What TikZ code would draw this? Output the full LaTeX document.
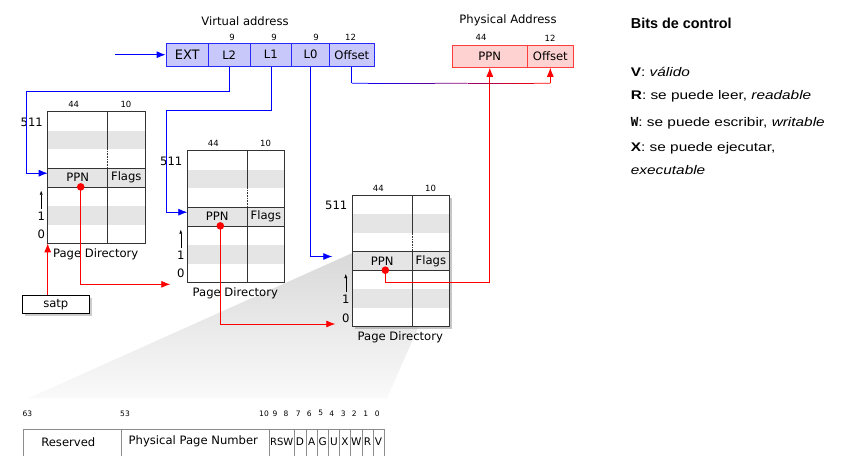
\documentclass[tikz,border=0pt]{standalone}
\usepackage{fontspec}
\setmainfont{DejaVu Sans}
\newfontfamily\ctrlfont[FakeStretch=1.23]{Liberation Sans}
\newfontfamily\headfont{Liberation Sans}
\newfontfamily\wbitfont{DejaVu Sans Mono}
\usetikzlibrary{arrows.meta,shadows,calc}

\definecolor{vafill}{RGB}{200,200,250}
\definecolor{vaedge}{RGB}{40,40,250}
\definecolor{pafill}{RGB}{255,210,210}
\definecolor{paedge}{RGB}{255,60,60}

\tikzset{
  lbl/.style={font=\fontsize{11.6}{13}\selectfont, inner sep=0pt},
  bits/.style={font=\fontsize{8.5}{9}\selectfont, inner sep=0pt},
  bitno/.style={font=\fontsize{7.5}{8}\selectfont, inner sep=0pt},
  vfield/.style={lbl, draw=vaedge, fill=vafill, line width=0.9pt, minimum height=22.7pt},
  pfield/.style={lbl, draw=paedge, fill=pafill, line width=0.9pt, minimum height=22.3pt},
  ctrl/.style={anchor=west, inner sep=0pt, font=\ctrlfont\fontsize{12.5}{14}\selectfont},
  band/.style={fill=black!10},
  dirline/.style={draw=black!80, line width=0.6pt},
  barline/.style={draw=black!45, line width=0.7pt},
  vlink/.style={blue, line width=0.8pt},
  rlink/.style={red, line width=0.8pt},
}

\begin{document}
\begin{tikzpicture}[x=1pt, y=-1pt, >={Latex[length=9pt,width=7pt]}]
\useasboundingbox (0,0) rectangle (861,455);

% virtual address
\node[lbl] (vtitle) at (245,20.7) {Virtual address};
\node[vfield, minimum width=42.3pt, font=\fontsize{13}{14}\selectfont] (ext) at (187.2,54.7) {EXT};
\node[vfield, minimum width=41.7pt] (l2) at (229.2,54.7) {L2};
\node[vfield, minimum width=41.7pt] (l1) at (270.9,54.7) {L1};
\node[vfield, minimum width=37.6pt] (l0) at (310.5,54.7) {L0};
\node[vfield, minimum width=45pt] (off) at (351.8,54.7) {Offset};
\node[bits] (n2) at (232,37.7) {9};
\node[bits] (n1) at (274,37.7) {9};
\node[bits] (n0) at (316,37.7) {9};
\node[bits] (noff) at (350.5,37.7) {12};

% physical address
\node[lbl] (ptitle) at (508,20.7) {Physical Address};
\node[pfield, minimum width=75pt] (pppn) at (489.8,56.2) {PPN};
\node[pfield, minimum width=46pt] (poff) at (550.3,56.2) {Offset};
\node[bits] (n44) at (481,37) {44};
\node[bits] (n12) at (550,38) {12};

% projection of the entry
\shade[top color=black!15, bottom color=black!2] (352.3,253) -- (447,262) -- (387,398.3) -- (28.3,398.3) -- cycle;
\fill[white, drop shadow={opacity=0.45}] (352.3,195) rectangle ++(97.3,131.6);

% page directories
\foreach \t/\x/\y in {A/47.7/111.7, B/187.3/150.7, C/352.3/195}{
  \fill[white] (\x,\y) rectangle ++(97.3,131.6);
  \fill[band] (\x,\y+18.8) rectangle ++(97.3,18.8);
  \fill[band] (\x,\y+56.4) rectangle ++(97.3,18.8);
  \fill[band] (\x,\y+94) rectangle ++(97.3,18.8);
  \draw[dirline] (\x,\y+56.4) -- ++(97.3,0) (\x,\y+75.2) -- ++(97.3,0);
  \draw[dirline] (\x+60,\y) -- ++(0,37.6) (\x+60,\y+56.4) -- (\x+60,\y+131.6);
  \draw[dirline, densely dotted] (\x+60,\y+37.6) -- ++(0,18.8);
  \draw[dirline, line width=0.9pt] (\x,\y) rectangle ++(97.3,131.6);
  \node[lbl] (ppn\t) at (\x+30,\y+65.8) {PPN};
  \node[lbl] (flags\t) at (\x+78.6,\y+65.8) {Flags};
  \node[bits] (w44\t) at (\x+26,\y-7) {44};
  \node[bits] (w10\t) at (\x+78.3,\y-7) {10};
  \node[lbl] (top\t) at (\x-16,\y+10.5) {511};
  \node[lbl] (one\t) at (\x-6.5,\y+104.3) {1};
  \node[lbl] (zero\t) at (\x-6.5,\y+122.8) {0};
  \coordinate (up\t) at (\x-6.5,\y+79);
  \draw[->, >={Latex[length=4pt,width=3pt]}, shorten <=2.5pt] (one\t.north) -- (up\t);
  \node[lbl] (cap\t) at (\x+48,\y+142.3) {Page Directory};
  \coordinate (dot\t) at (\x+33,\y+75.2);
  \coordinate (in\t) at (\x,\y+61.5);
  \coordinate (foot\t) at (\x,\y+131.6);
}

\node[lbl, draw, fill=white, line width=0.6pt, minimum width=67pt, minimum height=17.6pt, drop shadow={opacity=0.4}] (satp) at (55.8,304.5) {satp};

% links
\coordinate (vin) at (115,54.7);
\coordinate (k2) at (26.7,91.7);
\coordinate (k1) at (166,110);
\draw[vlink,->] (vin) -- (ext.west);
\draw[vlink,->] (l2.south) |- (k2) |- (inA);
\draw[vlink,->] (l1.south) |- (k1) |- (inB);
\draw[vlink,->,shorten >=20pt] (l0.south) |- (inC);

\coordinate (obend) at ($(off.south)+(0,16.7)$);
\coordinate (pbend) at (obend -| poff.south);
\draw[vlink] (off.south) -- (obend);
\foreach \k [evaluate=\k as \pct using int(\k*100/11)] in {0,...,11}
  \draw[line width=0.8pt, red!\pct!blue] ($(obend)!\k/12!(pbend)$) -- ($(obend)!{(\k+1)/12}!(pbend)$);
\draw[rlink,->] (pbend) -- (poff.south);

\coordinate (toB) at (187.3,284.3);
\coordinate (toC) at (352.3,324);
\coordinate (turnC) at ($(dotC)+(0,12.4)$);
\draw[rlink,->] (satp.north -| footA) -- (footA);
\draw[rlink,->,shorten >=17pt] (dotA) |- (toB);
\draw[rlink,->,shorten >=17pt] (dotB) |- (toC);
\draw[rlink,->] (dotC) -- (turnC) -| (pppn.south);
\foreach \t in {A,B,C}
  \fill[red] (dot\t) circle (3.8pt);

% page table entry
\draw[barline] (23.3,470) |- (384,429.3) -- (384,470);
\foreach \dx in {121.7,269.3,294.3,306,317.3,328.5,339.3,350.7,362,373}
  \draw[barline] (\dx,429.3) -- (\dx,470);
\node[lbl] (res) at (68.3,441.7) {Reserved};
\node[lbl] (pfn) at (193.3,441.7) {Physical Page Number};
\node[lbl, font=\fontsize{10}{11}\selectfont] (rsw) at (281.7,441.7) {RSW};
\foreach \f/\fx in {D/300,A/311.7,G/322.8,U/333.9,X/345,W/356.3,R/367.5,V/378.5}
  \node[lbl, font=\fontsize{10.5}{11}\selectfont] (fl\f) at (\fx,441.7) {\f};
\foreach \b/\bx in {63/27.3,53/125,10/264,9/275,8/286,7/298.3,6/309.3,5/320.7,4/331.7,3/343.3,2/354.3,1/365.7,0/377.3}
  \node[bitno] (bit\b) at (\bx,413.3) {\b};

% control bits
\node[anchor=west, inner sep=0pt, font=\headfont\bfseries\fontsize{14.4}{16}\selectfont] (bhead) at (630.7,23.3) {Bits de control};
\node[ctrl] (bv) at (630.7,71.7) {\textbf{V}: \textit{válido}};
\node[ctrl] (br) at (630.7,96.7) {\textbf{R}: se puede leer, \textit{readable}};
\node[ctrl] (bw) at (630.7,123.3) {{\wbitfont\bfseries W}: se puede escribir, \textit{writable}};
\node[ctrl] (bx) at (630.7,148.3) {\textbf{X}: se puede ejecutar,};
\node[ctrl] (bx2) at (630.7,170) {\textit{executable}};
\end{tikzpicture}
\end{document}
